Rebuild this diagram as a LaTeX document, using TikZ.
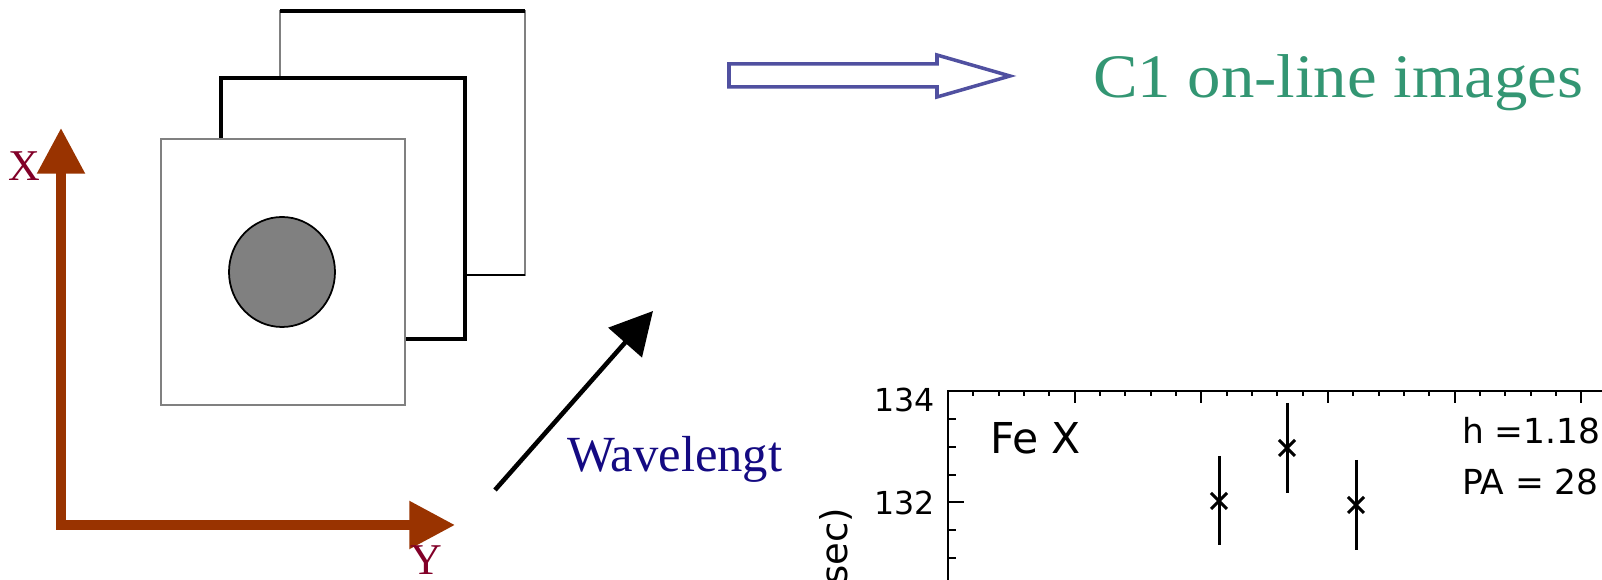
\documentclass[tikz,border=0pt]{standalone}
\usepackage{fontspec}
\setmainfont{Liberation Serif}
\newfontfamily\plotfont{DejaVu Sans}
\usetikzlibrary{arrows.meta}
\definecolor{axisred}{RGB}{153,51,0}
\definecolor{labelred}{RGB}{130,0,40}
\definecolor{wavenavy}{RGB}{20,10,130}
\definecolor{titlegreen}{RGB}{51,150,115}
\definecolor{framegray}{RGB}{128,128,128}
\definecolor{hollowblue}{RGB}{80,80,160}

\begin{document}
\begin{tikzpicture}[x=0.01cm,y=-0.01cm,
  every node/.style={inner sep=0pt,outer sep=0pt},
  imgframe/.style={draw=framegray,fill=white,line width=0.8pt},
  darkframe/.style={draw=black,fill=white,line width=1pt},
  axisline/.style={draw=axisred,line width=2.7pt,{Triangle[length=13pt,width=13pt]}-{Triangle[length=13pt,width=13pt]}},
  axislabel/.style={text=labelred,font=\fontsize{12.5}{12.5}\selectfont},
  wavearrow/.style={line width=1.3pt,-{Triangle[length=12pt,width=12.5pt]}},
  plotline/.style={line width=0.55pt},
  databar/.style={line width=0.85pt},
  plottext/.style={font=\plotfont\fontsize{9}{9}\selectfont}]
\useasboundingbox (0,0) rectangle (1602,580);
\clip (0,0) rectangle (1602,580);
\fill[white] (0,0) rectangle (1602,580);

\draw[imgframe] (280,11) rectangle (525,275);
\draw[line width=0.9pt] (280,11) -- (525,11);
\draw[line width=0.45pt] (280,275) -- (525,275);
\draw[darkframe] (221,78) rectangle (465,339);
\draw[line width=1.4pt] (221,339) -- (465,339);
\draw[imgframe] (161,139) rectangle (405,405);
\draw[fill=framegray,line width=0.5pt] (282,272) ellipse [x radius=53,y radius=55];

\coordinate (origin) at (61,525);
\coordinate (xtip) at (61,128);
\coordinate (ytip) at (455,525);
\draw[axisline] (xtip) -- (origin) -- (ytip);
\node[axislabel] (xlab) at (24,166) {X};
\node[axislabel,anchor=base] (ylab) at (426,575) {Y};

\coordinate (wtail) at (495,490);
\coordinate (whead) at (653,311);
\draw[wavearrow] (wtail) -- (whead);
\node[anchor=base west,text=wavenavy,font=\fontsize{14.4}{14.4}\selectfont] (wave) at (567,472) {Wavelengt};

\draw[draw=hollowblue,line width=1pt,fill=white] (729,64) -- (937,64) -- (937,55) -- (1010,76) -- (937,97) -- (937,87) -- (729,87) -- cycle;
\node[anchor=base west,xscale=1.08,text=titlegreen,font=\fontsize{17.6}{17.6}\selectfont] (title) at (1093,98) {C1 on-line images};

\draw[plotline] (948,580) -- (948,391) -- (1602,391);
\foreach \i in {1,...,26}
  \draw[plotline] ({948+25.33*\i},391) -- ++(0,5);
\foreach \i in {1,...,5}
  \draw[plotline] ({948+126.65*\i},391) -- ++(0,12);
\foreach \k in {1,...,6}
  \draw[plotline] (948,{391+27.85*\k}) -- ++(8,0);
\draw[plotline] (948,502) -- ++(16,0);
\node[plottext,anchor=east] (t134) at (935,400) {134};
\node[plottext,anchor=east] (t132) at (935,503) {132};
\node[plottext,rotate=90,anchor=east,font=\plotfont\fontsize{10.5}{10.5}\selectfont] (ylabel) at (836,508) {sec)};
\node[plottext,anchor=base west,font=\plotfont\fontsize{12.1}{12.1}\selectfont] (ion) at (990,454) {Fe X};
\node[plottext,anchor=base west,font=\plotfont\fontsize{9.8}{9.8}\selectfont] (height) at (1462,444) {h =1.18};
\node[plottext,anchor=base west,font=\plotfont\fontsize{9.8}{9.8}\selectfont] (pa) at (1462,495) {PA = 28};

\foreach \x/\y/\lo/\hi in {1219/501/456/545,1287/448/403/493,1356/505/460/550}{
  \draw[databar] (\x,\lo) -- (\x,\hi);
  \draw[databar] (\x-8,\y-8) -- (\x+8,\y+8) (\x-8,\y+8) -- (\x+8,\y-8);
}
\end{tikzpicture}
\end{document}
